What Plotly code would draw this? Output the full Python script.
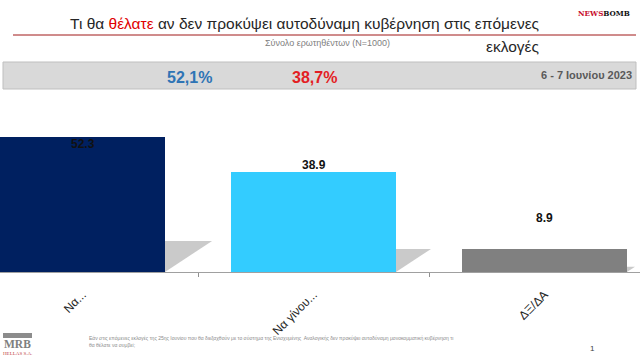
import plotly.graph_objects as go

categories = ["Να...", "Να γίνου...", "ΔΞ/ΔΑ"]
values = [52.3, 38.9, 8.9]
bar_colors = ["#002060", "#33CCFF", "#808080"]
label_texts = ["52.3", "38.9", "8.9"]
label_shift = [-7, 7, 31]

title_line1 = "Τι θα <span style='color:#E00000'>θέλατε</span> αν δεν προκύψει αυτοδύναμη κυβέρνηση στις επόμενες"
title_line2 = "εκλογές"
subtitle = "Σύνολο ερωτηθέντων (N=1000)"
pct_a = "52,1%"
pct_b = "38,7%"
date_text = "6 - 7 Ιουνίου 2023"
footer = ("Εάν στις επόμενες εκλογές της 25ης Ιουνίου που θα διεξαχθούν με το σύστημα της Ενισχυμένης  "
          "Αναλογικής δεν προκύψει αυτοδύναμη μονοκομματική κυβέρνηση τι<br>θα θέλατε να συμβεί;")

W, H = 640, 360
TOP, BOT = 100, 272
def py(y):
    return (BOT - y) / (BOT - TOP)
def px(x):
    return x / W

SANS = "Liberation Sans, Arial, sans-serif"

xs = list(range(len(categories)))
bar_w = 0.714

fig = go.Figure()

# shadows
for i, v in enumerate(values):
    x0 = xs[i] + bar_w / 2
    h = 0.23 * v
    w = 0.0039 * v
    fig.add_trace(go.Scatter(x=[x0, x0, x0 + w, x0], y=[0, h, h, 0], fill="toself",
                             mode="lines", line=dict(width=0), fillcolor="#cacaca",
                             hoverinfo="skip", showlegend=False))

fig.add_trace(go.Bar(x=xs, y=values, width=bar_w, marker=dict(color=bar_colors, line=dict(width=0)),
                     showlegend=False, hoverinfo="skip"))

for i, v in enumerate(values):
    fig.add_annotation(x=xs[i], y=v, text="<b>%s</b>" % label_texts[i], showarrow=False,
                       yshift=label_shift[i], font=dict(family=SANS, size=12, color="#111111"))

fig.update_xaxes(range=[-82.5 / 231, (W - 82.5) / 231], tickvals=xs, ticktext=categories,
                 tickangle=-45, tickfont=dict(family=SANS, size=12, color="#262626"),
                 showline=True, linecolor="#A0A0A0", linewidth=1, showgrid=False, zeroline=False,
                 ticks="", ticklabelstandoff=10,
                 minor=dict(tickvals=[0.5, 1.5], ticks="outside", ticklen=4, tickcolor="#909090",
                            showgrid=False))
fig.update_yaxes(range=[0, (BOT - TOP) / 2.58], visible=False)

ann = []
ann.append(dict(x=px(541), y=py(23), text=title_line1, xanchor="right", yanchor="middle",
                font=dict(family=SANS, size=15.5, color="#262626")))
ann.append(dict(x=px(541), y=py(47), text=title_line2, xanchor="right", yanchor="middle",
                font=dict(family=SANS, size=15.5, color="#262626")))
ann.append(dict(x=px(263), y=py(43), text=subtitle, xanchor="left", yanchor="middle",
                font=dict(family=SANS, size=9, color="#808080")))
ann.append(dict(x=px(189), y=py(77), text="<b>%s</b>" % pct_a, xanchor="center", yanchor="middle",
                font=dict(family=SANS, size=16, color="#2E74B5")))
ann.append(dict(x=px(314), y=py(77), text="<b>%s</b>" % pct_b, xanchor="center", yanchor="middle",
                font=dict(family=SANS, size=16, color="#E31E24")))
ann.append(dict(x=px(634), y=py(75), text="<b>%s</b>" % date_text, xanchor="right", yanchor="middle",
                font=dict(family=SANS, size=11, color="#595959")))
ann.append(dict(x=px(632), y=py(13), text="<b><span style='color:#C8102E'>NEWS</span>BOMB</b>",
                xanchor="right", yanchor="middle",
                font=dict(family="DejaVu Serif Condensed, DejaVu Serif, serif", size=8, color="#111111")))
ann.append(dict(x=px(87), y=py(341.5), text=footer, xanchor="left", yanchor="middle", align="left",
                font=dict(family=SANS, size=5, color="#8A8A8A")))
ann.append(dict(x=px(592), y=py(348), text="1", xanchor="center", yanchor="middle",
                font=dict(family=SANS, size=8, color="#404040")))
ann.append(dict(x=px(17.5), y=py(344), text="<b>MRB</b>", xanchor="center", yanchor="middle",
                font=dict(family="Liberation Serif, DejaVu Serif, serif", size=11.5, color="#7F7F7F")))
ann.append(dict(x=px(17.5), y=py(353.5), text="HELLAS S.A.", xanchor="center", yanchor="middle",
                font=dict(family="Liberation Serif, serif", size=5, color="#C04040")))
for a in ann:
    a.update(xref="paper", yref="paper", showarrow=False)
    fig.add_annotation(**a)

shapes = [
    dict(type="line", x0=px(13), x1=px(636), y0=py(35), y1=py(35), line=dict(color="#A01818", width=1)),
    dict(type="rect", x0=px(3), x1=px(636), y0=py(62), y1=py(89), fillcolor="#D9D9D9",
         line=dict(color="#BFBFBF", width=1), layer="below"),
    dict(type="rect", x0=px(3), x1=px(32), y0=py(333), y1=py(338), fillcolor="#8C8C8C",
         line=dict(width=0)),
]
for s in shapes:
    s.update(xref="paper", yref="paper")
    fig.add_shape(**s)

fig.update_layout(width=W, height=H, margin=dict(l=0, r=0, t=TOP, b=H - BOT),
                  plot_bgcolor="white", paper_bgcolor="white", bargap=0)

fig.write_html("out.html", config={"displayModeBar": False},
               post_script="document.body.style.margin='0';document.body.style.overflow='hidden';")
